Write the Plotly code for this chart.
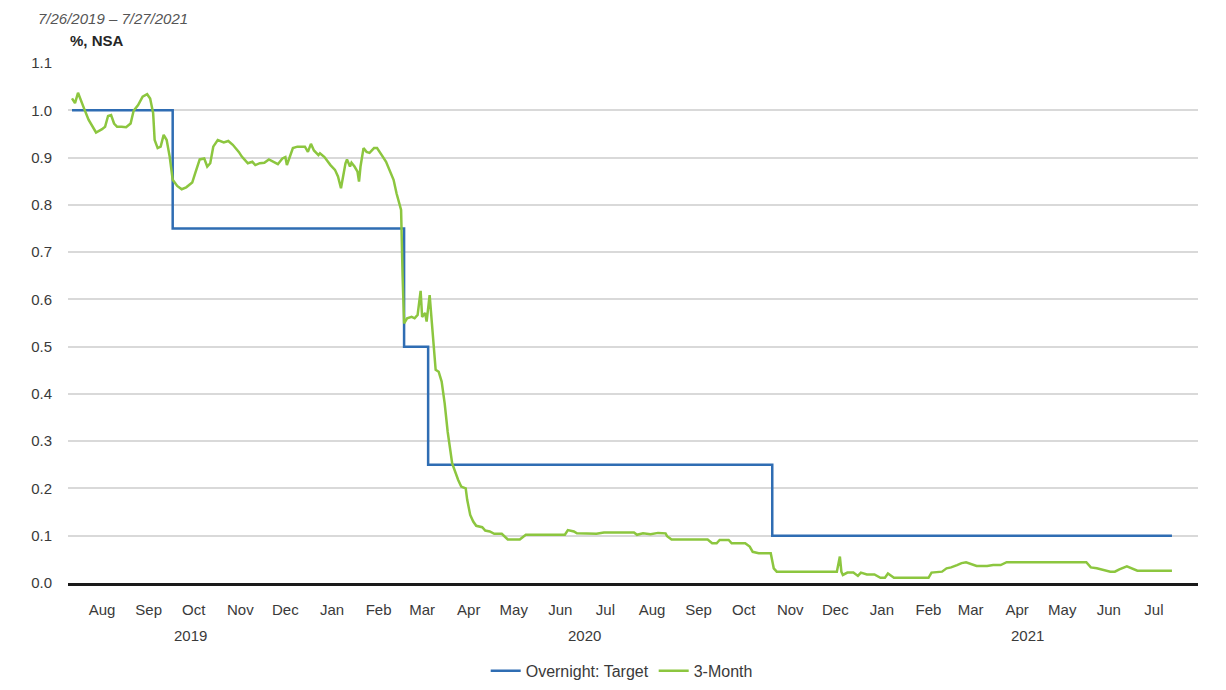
import plotly.graph_objects as go

# ---- Data ----
target_dates = ["2019-07-26", "2019-10-01", "2020-03-03", "2020-03-19", "2020-11-03", "2021-07-27"]
target_values = [1.00, 0.75, 0.50, 0.25, 0.10, 0.10]

m3_dates = [
    "2019-07-26", "2019-07-28", "2019-07-30", "2019-08-01", "2019-08-03", "2019-08-06", "2019-08-09",
    "2019-08-11", "2019-08-15", "2019-08-17", "2019-08-19", "2019-08-21", "2019-08-23", "2019-08-25",
    "2019-08-28", "2019-08-31", "2019-09-03", "2019-09-05", "2019-09-08", "2019-09-11", "2019-09-14",
    "2019-09-16", "2019-09-18", "2019-09-19", "2019-09-21", "2019-09-23", "2019-09-25", "2019-09-27",
    "2019-09-29", "2019-10-01", "2019-10-04", "2019-10-07", "2019-10-10", "2019-10-14", "2019-10-16",
    "2019-10-19", "2019-10-22", "2019-10-24", "2019-10-26", "2019-10-28", "2019-10-31", "2019-11-04",
    "2019-11-07", "2019-11-10", "2019-11-14", "2019-11-16", "2019-11-18", "2019-11-20", "2019-11-23",
    "2019-11-25", "2019-11-28", "2019-12-01", "2019-12-04", "2019-12-07", "2019-12-10", "2019-12-13",
    "2019-12-15", "2019-12-16", "2019-12-18", "2019-12-20", "2019-12-23", "2019-12-28", "2019-12-30",
    "2020-01-01", "2020-01-03", "2020-01-06", "2020-01-07", "2020-01-10", "2020-01-14", "2020-01-17",
    "2020-01-19", "2020-01-21", "2020-01-24", "2020-01-25", "2020-01-27", "2020-01-28", "2020-01-30",
    "2020-02-01", "2020-02-02", "2020-02-03", "2020-02-05", "2020-02-07", "2020-02-09", "2020-02-12",
    "2020-02-14", "2020-02-16", "2020-02-18", "2020-02-20", "2020-02-23", "2020-02-25", "2020-02-27",
    "2020-02-29", "2020-03-01", "2020-03-02", "2020-03-03", "2020-03-05", "2020-03-08", "2020-03-10",
    "2020-03-12", "2020-03-14", "2020-03-15", "2020-03-17", "2020-03-18", "2020-03-20", "2020-03-21",
    "2020-03-22", "2020-03-24", "2020-03-26", "2020-03-28", "2020-03-30", "2020-04-01", "2020-04-04",
    "2020-04-06", "2020-04-08", "2020-04-10", "2020-04-13", "2020-04-14", "2020-04-16", "2020-04-18",
    "2020-04-20", "2020-04-24", "2020-04-26", "2020-04-29", "2020-05-02", "2020-05-07", "2020-05-11",
    "2020-05-19", "2020-05-23", "2020-06-18", "2020-06-20", "2020-06-24", "2020-06-26", "2020-07-09",
    "2020-07-14", "2020-08-03", "2020-08-05", "2020-08-09", "2020-08-14", "2020-08-19", "2020-08-24",
    "2020-08-25", "2020-08-28", "2020-09-21", "2020-09-24", "2020-09-27", "2020-09-29", "2020-10-05",
    "2020-10-07", "2020-10-16", "2020-10-19", "2020-10-21", "2020-10-25", "2020-11-02", "2020-11-04",
    "2020-11-06", "2020-12-16", "2020-12-18", "2020-12-19", "2020-12-20", "2020-12-23", "2020-12-27",
    "2020-12-30", "2021-01-01", "2021-01-05", "2021-01-10", "2021-01-14", "2021-01-17", "2021-01-19",
    "2021-01-23", "2021-02-15", "2021-02-17", "2021-02-24", "2021-02-27", "2021-03-02", "2021-03-06",
    "2021-03-09", "2021-03-12", "2021-03-16", "2021-03-19", "2021-03-26", "2021-03-30", "2021-04-04",
    "2021-04-08", "2021-05-31", "2021-06-03", "2021-06-07", "2021-06-11", "2021-06-16", "2021-06-19",
    "2021-06-22", "2021-06-27", "2021-06-30", "2021-07-04", "2021-07-27",
]
m3_values = [
    1.025, 1.015, 1.037, 1.022, 1.004, 0.980, 0.965,
    0.953, 0.960, 0.965, 0.988, 0.990, 0.972, 0.965,
    0.965, 0.964, 0.972, 0.999, 1.011, 1.029, 1.034,
    1.025, 0.994, 0.937, 0.920, 0.923, 0.948, 0.937,
    0.902, 0.853, 0.840, 0.833, 0.837, 0.847, 0.867,
    0.896, 0.898, 0.881, 0.888, 0.923, 0.937, 0.932,
    0.935, 0.927, 0.912, 0.902, 0.895, 0.888, 0.891,
    0.884, 0.888, 0.889, 0.896, 0.891, 0.886, 0.898,
    0.901, 0.884, 0.902, 0.920, 0.923, 0.923, 0.912,
    0.929, 0.915, 0.905, 0.909, 0.901, 0.884, 0.874,
    0.860, 0.835, 0.888, 0.896, 0.881, 0.889, 0.881,
    0.870, 0.849, 0.881, 0.920, 0.912, 0.910, 0.920,
    0.920, 0.909, 0.901, 0.891, 0.867, 0.853, 0.824,
    0.803, 0.789, 0.650, 0.549, 0.560, 0.563, 0.560,
    0.567, 0.618, 0.563, 0.571, 0.553, 0.609, 0.571,
    0.514, 0.451, 0.447, 0.426, 0.380, 0.320, 0.253,
    0.235, 0.218, 0.204, 0.200, 0.176, 0.144, 0.130,
    0.121, 0.118, 0.111, 0.109, 0.104, 0.104, 0.092,
    0.092, 0.102, 0.102, 0.112, 0.109, 0.105, 0.104,
    0.107, 0.107, 0.102, 0.105, 0.103, 0.106, 0.105,
    0.099, 0.092, 0.092, 0.084, 0.084, 0.091, 0.091,
    0.084, 0.084, 0.077, 0.066, 0.063, 0.063, 0.031,
    0.024, 0.024, 0.056, 0.024, 0.017, 0.022, 0.022,
    0.015, 0.022, 0.018, 0.018, 0.011, 0.011, 0.020,
    0.011, 0.011, 0.022, 0.024, 0.031, 0.033, 0.038,
    0.042, 0.044, 0.040, 0.036, 0.036, 0.038, 0.038,
    0.044, 0.044, 0.033, 0.031, 0.028, 0.024, 0.024,
    0.029, 0.035, 0.031, 0.026, 0.026,
]

month_tick_dates = [
    "2019-08-15", "2019-09-15", "2019-10-15", "2019-11-15", "2019-12-15",
    "2020-01-15", "2020-02-15", "2020-03-15", "2020-04-15", "2020-05-15", "2020-06-15",
    "2020-07-15", "2020-08-15", "2020-09-15", "2020-10-15", "2020-11-15", "2020-12-15",
    "2021-01-15", "2021-02-15", "2021-03-15", "2021-04-15", "2021-05-15", "2021-06-15", "2021-07-15",
]
month_tick_labels = [
    "Aug", "Sep", "Oct", "Nov", "Dec",
    "Jan", "Feb", "Mar", "Apr", "May", "Jun",
    "Jul", "Aug", "Sep", "Oct", "Nov", "Dec",
    "Jan", "Feb", "Mar", "Apr", "May", "Jun", "Jul",
]
year_labels = ["2019", "2020", "2021"]
year_label_dates = ["2019-10-13", "2020-07-01", "2021-04-22"]

FONT = "Liberation Sans, Arial, sans-serif"
TEXT = "#3a3a3a"
FS = 15

fig = go.Figure()
fig.add_trace(go.Scatter(
    x=target_dates, y=target_values, name="Overnight: Target",
    mode="lines", line=dict(color="#2f6db3", width=2.5, shape="hv"),
))
fig.add_trace(go.Scatter(
    x=m3_dates, y=m3_values, name="3-Month",
    mode="lines", line=dict(color="#8cc63f", width=2.5),
))

for lbl, d in zip(year_labels, year_label_dates):
    fig.add_annotation(x=d, xref="x", y=0, yref="paper", yanchor="top",
                       yshift=-42, text=lbl, showarrow=False,
                       font=dict(family=FONT, size=FS, color=TEXT))

fig.add_annotation(x=0, xref="paper", xanchor="left", y=1.044, yref="paper",
                   yanchor="middle", text="<b>%, NSA</b>", showarrow=False,
                   font=dict(family=FONT, size=FS, color="#262626"))
fig.add_annotation(x=-0.028, xref="paper", xanchor="left", y=1.1058, yref="paper",
                   yanchor="top", text="<i>7/26/2019 – 7/27/2021</i>", showarrow=False,
                   font=dict(family=FONT, size=15, color="#555555"))

fig.update_layout(
    width=1210, height=700,
    margin=dict(l=60, r=20, t=55, b=125),
    paper_bgcolor="white", plot_bgcolor="white",
    font=dict(family=FONT, size=FS, color=TEXT),
    showlegend=True,
    legend=dict(orientation="h", x=0.49, xanchor="center", y=-0.169, yanchor="middle",
                font=dict(family=FONT, size=16, color=TEXT), itemwidth=30),
    xaxis=dict(
        type="date", range=["2019-07-23 08:00", "2021-08-13 08:00"],
        tickmode="array", tickvals=month_tick_dates, ticktext=month_tick_labels,
        showgrid=False, ticks="outside", ticklen=11, tickcolor="rgba(0,0,0,0)",
        showline=True, linecolor="#1a1a1a", linewidth=3, zeroline=False,
        tickfont=dict(family=FONT, size=FS, color=TEXT),
    ),
    yaxis=dict(
        range=[0, 1.1], tickmode="array",
        tickvals=[0, 0.1, 0.2, 0.3, 0.4, 0.5, 0.6, 0.7, 0.8, 0.9, 1.0, 1.1],
        tickformat=".1f", showgrid=True, gridcolor="#d9d9d9", gridwidth=2,
        zeroline=False, showline=False, ticks="outside", ticklen=12,
        tickcolor="rgba(0,0,0,0)",
        tickfont=dict(family=FONT, size=FS, color=TEXT),
    ),
)

fig.write_html("out.html")
